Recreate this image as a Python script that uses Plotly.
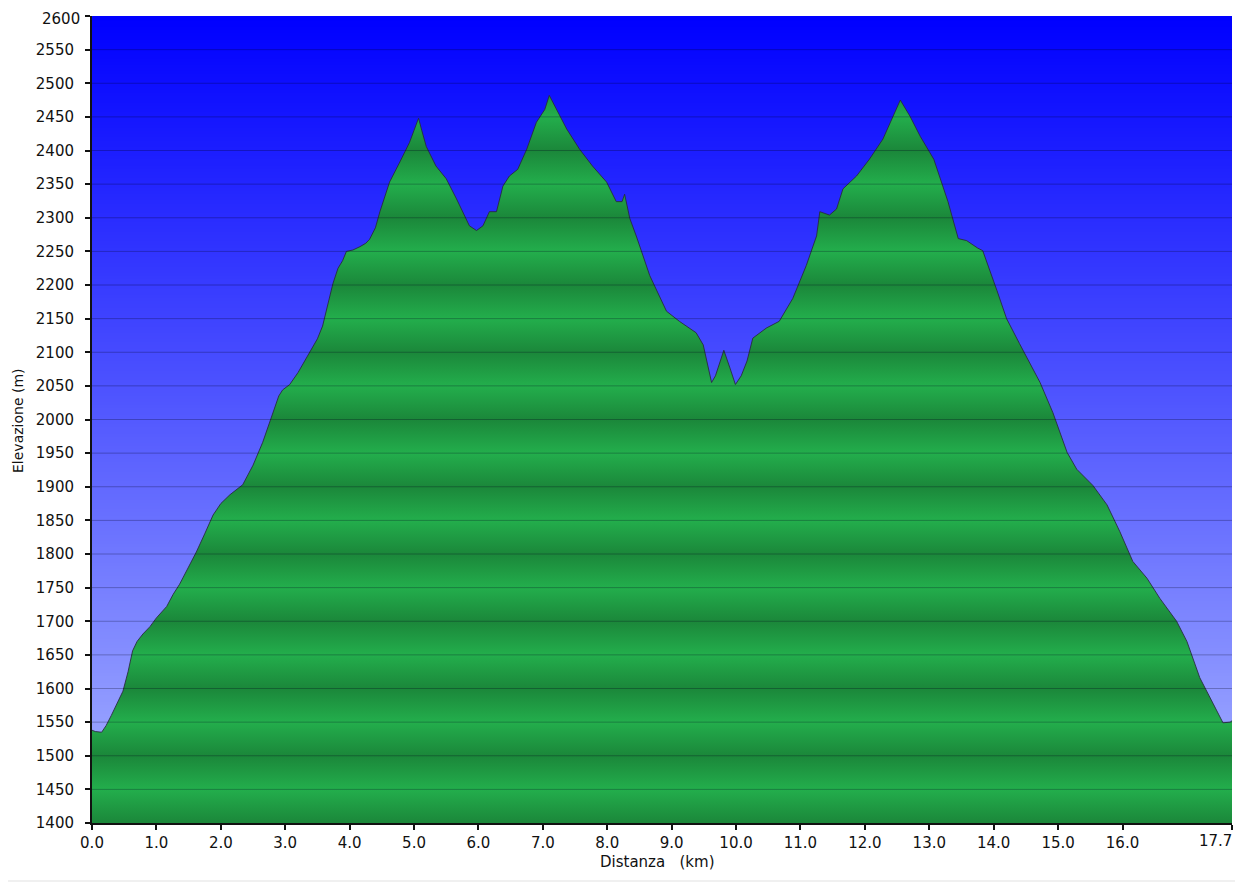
"""Elevation profile (GPS track) recreated with Plotly."""

import base64
import struct
import zlib

import plotly.graph_objects as go

# distance along the track (km) and elevation (m)
distance_km = [
    0.00, 0.05, 0.15, 0.22, 0.30, 0.40, 0.48, 0.56, 0.63, 0.70, 0.79, 0.90,
    1.00, 1.16, 1.26, 1.36, 1.50, 1.62, 1.75, 1.88, 2.00, 2.14, 2.34, 2.50,
    2.65, 2.79, 2.90, 2.96, 3.07, 3.20, 3.38, 3.50, 3.58, 3.66, 3.74, 3.82,
    3.89, 3.95, 4.05, 4.16, 4.25, 4.31, 4.40, 4.47, 4.62, 4.78, 4.93, 5.00,
    5.07, 5.12, 5.19, 5.34, 5.50, 5.66, 5.76, 5.86, 5.97, 6.07, 6.17, 6.28,
    6.38, 6.48, 6.61, 6.75, 6.90, 7.03, 7.10, 7.21, 7.37, 7.57, 7.77, 7.99,
    8.14, 8.23, 8.27, 8.35, 8.45, 8.66, 8.80, 8.92, 9.12, 9.25, 9.38, 9.49,
    9.56, 9.62, 9.68, 9.81, 9.90, 9.99, 10.08, 10.17, 10.26, 10.47, 10.67,
    10.88, 11.09, 11.25, 11.30, 11.45, 11.56, 11.66, 11.87, 12.07, 12.28,
    12.44, 12.55, 12.70, 12.86, 13.07, 13.29, 13.45, 13.58, 13.75, 13.83,
    14.05, 14.20, 14.40, 14.72, 14.92, 15.14, 15.29, 15.54, 15.76, 15.96,
    16.16, 16.38, 16.58, 16.84, 17.00, 17.20, 17.41, 17.56, 17.67, 17.70,
]
elevation_m = [
    1538, 1536, 1535, 1545, 1560, 1580, 1596, 1625, 1656, 1670, 1681, 1692,
    1705, 1722, 1740, 1755, 1780, 1803, 1830, 1858, 1875, 1888, 1903, 1932,
    1966, 2003, 2035, 2044, 2052, 2070, 2099, 2120, 2139, 2170, 2202, 2225,
    2236, 2250, 2252, 2257, 2262, 2268, 2285, 2309, 2353, 2383, 2412, 2430,
    2448, 2430, 2406, 2377, 2358, 2328, 2309, 2288, 2281, 2288, 2309, 2309,
    2347, 2362, 2372, 2402, 2442, 2461, 2482, 2461, 2432, 2402, 2377, 2353,
    2324, 2324, 2335, 2299, 2273, 2214, 2185, 2161, 2146, 2138, 2129, 2111,
    2080, 2055, 2065, 2103, 2078, 2052, 2065, 2087, 2121, 2136, 2146,
    2180, 2229, 2273, 2309, 2304, 2313, 2343, 2362, 2387, 2417,
    2451, 2475, 2451, 2421, 2387, 2324, 2269, 2266, 2255, 2251,
    2192, 2150, 2113, 2055, 2010, 1951, 1926, 1902, 1873, 1833,
    1789, 1764, 1734, 1700, 1670, 1616, 1577, 1549, 1550, 1552,
]

y_ticks = list(range(1400, 2601, 50))
x_tickvals = [0, 1, 2, 3, 4, 5, 6, 7, 8, 9, 10, 11, 12, 13, 14, 15, 16, 17.7]
x_ticktext = ["0.0", "1.0", "2.0", "3.0", "4.0", "5.0", "6.0", "7.0", "8.0",
              "9.0", "10.0", "11.0", "12.0", "13.0", "14.0", "15.0", "16.0", "17.7"]

# the page body adds an 8px margin, so the figure is a little smaller than the window
OX, OY = 8, 8
W, H = 1235, 874
L, R, T, B = 84, 11, 8, 59
FONT = "DejaVu Sans"


def gradient_png(top_rgb, bottom_rgb, rows=256):
    """Tiny vertical gradient PNG as a data URI (used for the sky)."""
    raw = b""
    for i in range(rows):
        t = i / (rows - 1)
        raw += b"\x00" + bytes(round(a + (b - a) * t) for a, b in zip(top_rgb, bottom_rgb))

    def chunk(tag, data):
        crc = zlib.crc32(tag + data) & 0xFFFFFFFF
        return struct.pack(">I", len(data)) + tag + data + struct.pack(">I", crc)

    png = (b"\x89PNG\r\n\x1a\n"
           + chunk(b"IHDR", struct.pack(">IIBBBBB", 1, rows, 8, 2, 0, 0, 0))
           + chunk(b"IDAT", zlib.compress(raw))
           + chunk(b"IEND", b""))
    return "data:image/png;base64," + base64.b64encode(png).decode()


def px(x):
    # window pixel -> paper x
    return (x - OX - L) / (W - L - R)


def py(y):
    # window pixel -> paper y
    return (H - B - (y - OY)) / (H - T - B)


# striped green: darker at every 100 m, lighter at the 50 m in between
n_bands = (y_ticks[-1] - y_ticks[0]) // 50
green_scale = [[i / n_bands, "#1b873a" if i % 2 == 0 else "#23ae4c"] for i in range(n_bands + 1)]

fig = go.Figure(
    go.Scatter(
        x=distance_km,
        y=elevation_m,
        mode="lines",
        line=dict(color="rgba(40,40,60,0.85)", width=1),
        fill="tozeroy",
        fillgradient=dict(type="vertical", colorscale=green_scale,
                          start=y_ticks[0], stop=y_ticks[-1]),
        hoverinfo="x+y",
        showlegend=False,
    )
)

shapes = []
# horizontal grid on top of the fill
for v in y_ticks[1:-1]:
    shapes.append(dict(type="line", xref="x domain", yref="y", x0=0, x1=1, y0=v, y1=v,
                       line=dict(color="rgba(0,0,30,0.28)", width=1), layer="above"))
# grey window edge on the right and at the bottom
shapes += [
    dict(type="rect", xref="paper", yref="paper", x0=px(0), x1=px(1300), y0=py(880), y1=py(900),
         fillcolor="#f0f0f0", line_width=0, layer="below"),
    dict(type="rect", xref="paper", yref="paper", x0=px(1237), x1=px(1300), y0=py(900), y1=py(0),
         fillcolor="#f0f0f0", line_width=0, layer="below"),
]

# first/last labels are nudged inwards (as in the original) so they stay on the page
x_text = x_ticktext[:-1] + [""]
y_text = [str(v) for v in y_ticks[:-1]] + [""]

fig.update_layout(
    width=W,
    height=H,
    margin=dict(l=L, r=R, t=T, b=B, autoexpand=False),
    paper_bgcolor="white",
    plot_bgcolor="rgba(0,0,0,0)",
    font=dict(family=FONT, size=15, color="#111111"),
    images=[dict(source=gradient_png((0, 0, 255), (168, 180, 255)),
                 xref="paper", yref="paper", x=0, y=1, sizex=1, sizey=1,
                 sizing="stretch", xanchor="left", yanchor="top", layer="below")],
    shapes=shapes,
    annotations=[
        dict(text="Elevazione (m)", xref="paper", yref="paper", x=px(18), y=py(421),
             xanchor="center", yanchor="middle", textangle=-90, showarrow=False,
             font=dict(size=14)),
        dict(text="Distanza\u00a0\u00a0 (km)", xref="paper", yref="paper", x=px(657), y=py(862),
             xanchor="center", yanchor="middle", showarrow=False, font=dict(size=15)),
        dict(text=x_ticktext[-1], xref="x", yref="paper", x=x_tickvals[-1], y=py(841),
             xanchor="right", yanchor="middle", xshift=2, showarrow=False,
             font=dict(size=15)),
        dict(text=str(y_ticks[-1]), xref="paper", yref="paper", x=px(82), y=py(19),
             xanchor="right", yanchor="middle", showarrow=False, font=dict(size=15)),
    ],
    xaxis=dict(
        range=[0, 17.7],
        tickvals=x_tickvals,
        ticktext=x_text,
        ticks="outside",
        ticklen=5,
        tickwidth=2,
        tickcolor="#111111",
        showline=True,
        linecolor="#111111",
        linewidth=2,
        showgrid=False,
        zeroline=False,
        automargin=False,
        layer="above traces",
    ),
    yaxis=dict(
        range=[y_ticks[0], y_ticks[-1]],
        tickvals=y_ticks,
        ticktext=y_text,
        ticks="outside",
        ticklen=5,
        tickwidth=2,
        tickcolor="#111111",
        ticklabelstandoff=8,
        showline=True,
        linecolor="#111111",
        linewidth=2,
        showgrid=False,
        zeroline=False,
        automargin=False,
        layer="above traces",
    ),
)

fig.write_html("out.html")
